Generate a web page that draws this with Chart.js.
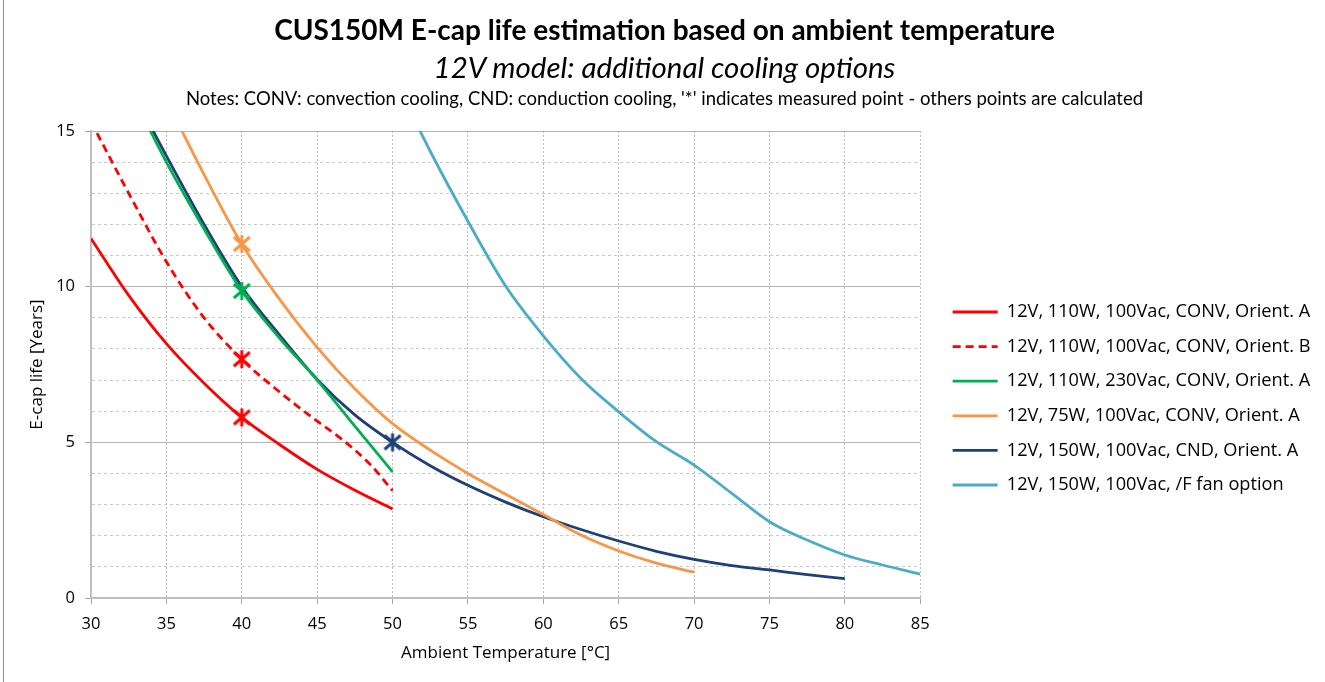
<!DOCTYPE html>
<html>
<head>
<meta charset="utf-8">
<script src="https://cdn.jsdelivr.net/npm/chart.js@4"></script>
<style>
  body { margin: 0; background: #fff; }
  #wrap { position: relative; width: 1325px; height: 682px; overflow: hidden; }
  #edge { position: absolute; left: 3px; top: 0; bottom: 0; width: 1px; background: #8f8f8f; }
  .t { position: absolute; left: 2px; width: 1325px; text-align: center; color: #000; font-family: Lato, "Open Sans", sans-serif; white-space: nowrap; }
  #t1 { top: 12px; font-size: 28px; font-weight: bold; }
  #t2 { top: 49px; font-size: 29.5px; font-style: italic; }
  #t3 { top: 87px; font-size: 18.5px; }
  canvas { position: absolute; left: 0; top: 0; }
</style>
</head>
<body>
<div id="wrap">
  <canvas id="chart" width="1325" height="682"></canvas>
  <div id="edge"></div>
  <div class="t" id="t1">CUS150M E-cap life estimation based on ambient temperature</div>
  <div class="t" id="t2">12V model: additional cooling options</div>
  <div class="t" id="t3">Notes: CONV: convection cooling, CND: conduction cooling, '*' indicates measured point - others points are calculated</div>
</div>
<script>
// series names (legend)
const seriesNames = [
    '12V, 110W, 100Vac, CONV, Orient. A',
    '12V, 110W, 100Vac, CONV, Orient. B',
    '12V, 110W, 230Vac, CONV, Orient. A',
    '12V, 75W, 100Vac, CONV, Orient. A',
    '12V, 150W, 100Vac, CND, Orient. A',
    '12V, 150W, 100Vac, /F fan option'
];

// ambient temperature [°C] and E-cap life [years]
const tempsRedA = [30, 32.5, 35, 37.5, 40, 42.5, 45, 47.5, 50];
const lifeRedA = [11.55, 9.72, 8.17, 6.9, 5.8, 4.93, 4.13, 3.46, 2.86];

const tempsRedB = [30, 32.5, 35, 37.5, 40, 42.5, 45, 46.5, 48.5, 50];
const lifeRedB = [15.3, 13.0, 10.8, 9.0, 7.67, 6.62, 5.68, 5.15, 4.3, 3.45];

const tempsGreen = [32.5, 35, 37.5, 40, 42.5, 45, 47.5, 50];
const lifeGreen = [16.4, 14.0, 11.85, 9.86, 8.35, 7.0, 5.52, 4.05];

const tempsOrange = [35, 37.5, 40, 42.5, 45, 47.5, 50, 52.5, 55, 57.5, 60, 62.5, 65, 67.5, 70];
const lifeOrange = [16.0, 13.6, 11.37, 9.6, 8.05, 6.72, 5.6, 4.75, 4.0, 3.33, 2.68, 2.02, 1.51, 1.12, 0.83];

const tempsNavy = [32.5, 35, 37.5, 40, 42.5, 45, 47.5, 50, 52.5, 55, 57.5, 60, 62.5, 65, 67.5, 70, 72.5, 75, 77.5, 80];
const lifeNavy = [16.5, 14.2, 12.0, 10.0, 8.45, 7.02, 5.88, 5.0, 4.25, 3.62, 3.08, 2.61, 2.2, 1.83, 1.5, 1.24, 1.04, 0.9, 0.75, 0.62];

const tempsFan = [50, 52.5, 55, 57.5, 60, 62.5, 65, 67.5, 70, 72.5, 75, 77.5, 80, 82.5, 85];
const lifeFan = [16.8, 14.35, 12.1, 10.02, 8.42, 7.05, 5.98, 5.02, 4.27, 3.36, 2.45, 1.86, 1.38, 1.06, 0.77];

// temperature of the measured point of each series (null = none)
const measuredAt = [40, 40, 40, 40, 50, null];

const colors = ['#ff0000', '#ff0000', '#00b050', '#f79646', '#1f3f77', '#4bacc6'];

function toPoints(xs, ys) {
    return xs.map((x, i) => ({ x: x, y: ys[i] }));
}

// Excel style "*" marker: X with a vertical stroke
function starMarker(color) {
    const c = document.createElement('canvas');
    c.width = 20; c.height = 20;
    const g = c.getContext('2d');
    g.strokeStyle = color;
    g.lineWidth = 3;
    g.beginPath();
    g.moveTo(2, 3); g.lineTo(18, 17);
    g.moveTo(18, 3); g.lineTo(2, 17);
    g.moveTo(10, 1); g.lineTo(10, 19);
    g.stroke();
    return c;
}

const allTemps = [tempsRedA, tempsRedB, tempsGreen, tempsOrange, tempsNavy, tempsFan];
const allLife = [lifeRedA, lifeRedB, lifeGreen, lifeOrange, lifeNavy, lifeFan];

const datasets = seriesNames.map((name, i) => {
    const marker = starMarker(colors[i]);
    return {
        label: name,
        data: toPoints(allTemps[i], allLife[i]),
        borderColor: colors[i],
        backgroundColor: colors[i],
        borderWidth: 2.8,
        borderDash: i === 1 ? [8, 5] : [],
        cubicInterpolationMode: 'monotone',
        pointStyle: marker,
        pointRadius: ctx => (ctx.raw && ctx.raw.x === measuredAt[i]) ? 10 : 0,
        pointHoverRadius: 0
    };
});

const tickFont = { family: '"Open Sans", sans-serif', size: 16.5 };
const titleFont = { family: '"Open Sans", sans-serif', size: 17 };

// the layout caps the legend width, so move it next to the plot and let it use the rest of the canvas
const legendPlace = {
    id: 'legendPlace',
    afterLayout(chart) {
        chart.legend.left = chart.chartArea.right + 16;
        chart.legend.right = chart.width;
    }
};

const ctx = document.getElementById('chart').getContext('2d');
const chart = new Chart(ctx, {
    type: 'line',
    data: { datasets: datasets },
    plugins: [legendPlace],
    options: {
        responsive: false,
        animation: false,
        events: [],
        layout: { padding: { top: 131, right: 98, bottom: 16, left: 0 } },
        plugins: {
            tooltip: { enabled: false },
            legend: {
                position: 'right',
                labels: {
                    usePointStyle: true,
                    pointStyle: 'line',
                    pointStyleWidth: 45,
                    color: '#000',
                    font: { family: '"Open Sans", sans-serif', size: 18.2 },
                    padding: 16.4,
                    // keep the dash of the line in the legend sample
                    generateLabels: c => Chart.defaults.plugins.legend.labels.generateLabels(c).map(item => {
                        const ds = c.data.datasets[item.datasetIndex];
                        item.lineDash = ds.borderDash;
                        item.lineWidth = ds.borderWidth;
                        item.strokeStyle = ds.borderColor;
                        return item;
                    })
                }
            }
        },
        scales: {
            x: {
                type: 'linear',
                min: 30,
                max: 85,
                afterFit: s => { s.height = 68; },
                ticks: { stepSize: 5, padding: 10, color: '#000', font: tickFont },
                grid: { color: '#bdbdbd', tickLength: 6, tickColor: '#a6a6a6' },
                border: { color: '#bfbfbf', width: 2, dash: c => c.tick ? [2, 2] : [] },
                title: {
                    display: true,
                    text: 'Ambient Temperature [°C]',
                    color: '#000',
                    font: titleFont,
                    padding: { top: 3, bottom: 3 }
                }
            },
            y: {
                type: 'linear',
                min: 0,
                max: 15,
                afterFit: s => { s.width = 91; },
                ticks: {
                    stepSize: 1,
                    autoSkip: false,
                    padding: 10,
                    color: '#000',
                    font: tickFont,
                    callback: v => (v % 5 === 0 ? v : '')
                },
                grid: {
                    color: c => (c.tick && c.tick.value % 5 === 0) ? '#b3b3b3' : '#c8c8c8',
                    tickLength: 6,
                    tickColor: c => (c.tick && c.tick.value % 5 === 0) ? '#a6a6a6' : 'rgba(0,0,0,0)'
                },
                border: {
                    color: '#bfbfbf',
                    width: 2,
                    dash: c => (c.tick && c.tick.value % 5 !== 0) ? [3, 3] : []
                },
                title: {
                    display: true,
                    text: 'E-cap life [Years]',
                    color: '#000',
                    font: titleFont,
                    padding: { top: 27, bottom: 27 }
                }
            }
        }
    }
});
</script>
</body>
</html>
